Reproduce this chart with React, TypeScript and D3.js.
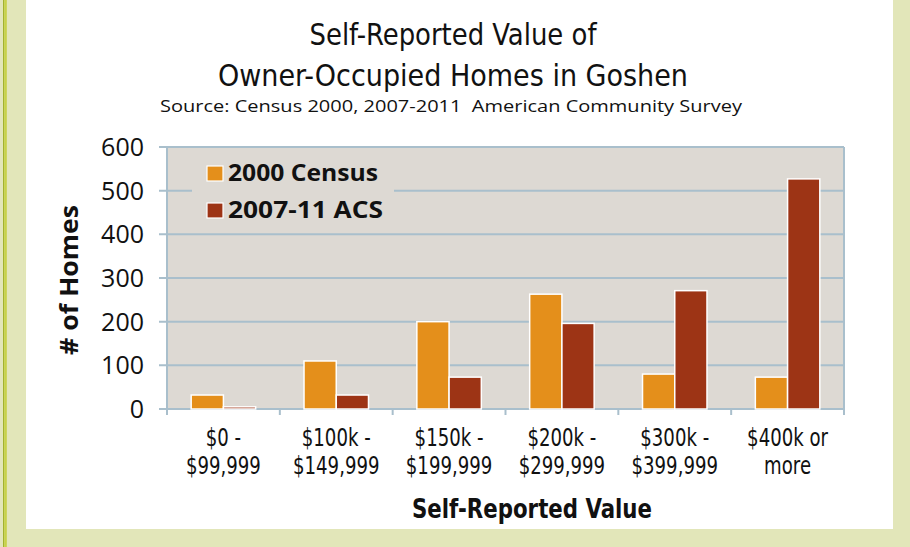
import React from "react";
import { scaleLinear, scaleBand } from "d3";

// chart data
const categoryTop = ["$0 -", "$100k -", "$150k -", "$200k -", "$300k -", "$400k or"];
const categoryBottom = ["$99,999", "$149,999", "$199,999", "$299,999", "$399,999", "more"];
const seriesNames = ["2000 Census", "2007-11 ACS"];
const census2000 = [32, 110, 200, 263, 80, 73];
const acs2011 = [5, 32, 73, 196, 271, 527];
const yTicks = [0, 100, 200, 300, 400, 500, 600];

const W = 910;
const H = 547;
const colors = ["#e48f1b", "#9d3415"];
const gridColor = "#a9bfcc";
const narrow = "'Liberation Sans Narrow', 'DejaVu Sans Condensed', 'Roboto', sans-serif";
const sans = "'Open Sans', 'Noto Sans', sans-serif";

export default function App() {
  const plot = { left: 167, right: 844, top: 147, bottom: 409 };

  const y = scaleLinear().domain([0, 600]).range([plot.bottom, plot.top]);
  const x0 = scaleBand<number>()
    .domain(categoryTop.map((_, i) => i))
    .range([plot.left, plot.right]);
  // two bars per group, Excel-like gap of 150%
  const x1 = scaleBand<number>()
    .domain([0, 1])
    .range([0, x0.bandwidth()])
    .paddingInner(0)
    .paddingOuter(0.75);

  const series = [census2000, acs2011];

  return (
    <svg
      width={W}
      height={H}
      style={{ position: "absolute", left: 0, top: 0 }}
    >
      {/* page background */}
      <rect x={0} y={0} width={W} height={H} fill="#e2e6b9" />
      <rect x={3} y={0} width={1.3} height={H} fill="#a3b22e" />
      <rect x={4.3} y={0} width={2.5} height={H} fill="#c7d248" />
      <rect x={26} y={0} width={867} height={529} fill="#ffffff" />

      {/* titles */}
      <g fontFamily={narrow} fill="#111" textAnchor="middle">
        <text x={453} y={45} fontSize={30} textLength={287} lengthAdjust="spacingAndGlyphs">
          Self-Reported Value of
        </text>
        <text x={453} y={86} fontSize={30} textLength={470} lengthAdjust="spacingAndGlyphs">
          Owner-Occupied Homes in Goshen
        </text>
      </g>
      <text
        x={451}
        y={112}
        fontFamily={sans}
        fontSize={17}
        textAnchor="middle"
        fill="#111"
        textLength={582}
        lengthAdjust="spacingAndGlyphs"
        xmlSpace="preserve"
      >
        Source: Census 2000, 2007-2011  American Community Survey
      </text>

      {/* plot area */}
      <rect
        x={plot.left}
        y={plot.top}
        width={plot.right - plot.left}
        height={plot.bottom - plot.top}
        fill="#ddd9d3"
      />
      {yTicks.map((t) => (
        <line
          key={t}
          x1={plot.left - 8}
          x2={plot.right}
          y1={y(t)}
          y2={y(t)}
          stroke={gridColor}
          strokeWidth={2}
        />
      ))}
      <line x1={plot.left} x2={plot.left} y1={plot.top} y2={plot.bottom + 6} stroke={gridColor} strokeWidth={2} />
      <line x1={plot.right} x2={plot.right} y1={plot.top} y2={plot.bottom + 6} stroke={gridColor} strokeWidth={2} />
      {categoryTop.map((_, i) => (
        <line
          key={i}
          x1={x0(i)!}
          x2={x0(i)!}
          y1={plot.bottom}
          y2={plot.bottom + 6}
          stroke={gridColor}
          strokeWidth={2}
        />
      ))}

      {/* legend */}
      <rect x={192} y={156} width={202} height={72} fill="#ddd9d3" />
      {seriesNames.map((name, i) => (
        <g key={name} transform={`translate(207, ${166 + i * 37})`}>
          <rect x={0} y={0} width={16} height={15} fill={colors[i]} stroke="#fff" strokeWidth={1.2} />
          <text
            x={21}
            y={15}
            fontFamily={sans}
            fontWeight={700}
            fontSize={24}
            fill="#111"
            textLength={i === 0 ? 150 : 155}
            lengthAdjust="spacingAndGlyphs"
          >
            {name}
          </text>
        </g>
      ))}

      {/* bars */}
      {series.map((values, s) =>
        values.map((v, i) => (
          <rect
            key={`${s}-${i}`}
            x={x0(i)! + x1(s)!}
            y={y(v)}
            width={x1.bandwidth()}
            height={plot.bottom - y(v)}
            fill={colors[s]}
            stroke="#ffffff"
            strokeWidth={1.5}
          />
        ))
      )}

      {/* y tick labels */}
      {yTicks.map((t) => (
        <text
          key={t}
          x={144}
          y={y(t)}
          dy="0.36em"
          textAnchor="end"
          fontFamily={sans}
          fontSize={25}
          fill="#111"
        >
          {t}
        </text>
      ))}

      {/* x tick labels */}
      {categoryTop.map((c, i) => (
        <g
          key={c}
          transform={`translate(${x0(i)! + x0.bandwidth() / 2}, 0) scale(0.84, 1)`}
          fontFamily={narrow}
          fontSize={24}
          fill="#111"
          textAnchor="middle"
        >
          <text x={0} y={446}>
            {c}
          </text>
          <text x={0} y={474}>
            {categoryBottom[i]}
          </text>
        </g>
      ))}

      {/* axis titles */}
      <text
        x={532}
        y={518}
        textAnchor="middle"
        fontFamily={narrow}
        fontWeight={700}
        fontSize={26}
        fill="#111"
        textLength={240}
        lengthAdjust="spacingAndGlyphs"
      >
        Self-Reported Value
      </text>
      <text
        transform="translate(78, 280) rotate(-90)"
        textAnchor="middle"
        fontFamily={sans}
        fontWeight={700}
        fontSize={25}
        fill="#111"
        textLength={150}
        lengthAdjust="spacingAndGlyphs"
      >
        # of Homes
      </text>
    </svg>
  );
}
